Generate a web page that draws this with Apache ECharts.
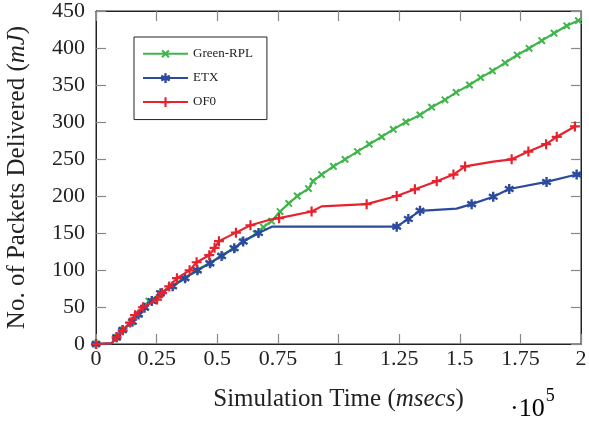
<!DOCTYPE html>
<html>
<head>
<meta charset="utf-8">
<script src="https://cdn.jsdelivr.net/npm/echarts@6/dist/echarts.min.js"></script>
<style>html,body{margin:0;padding:0;background:#fff;}#c{width:589px;height:421px;}</style>
</head>
<body>
<div id="c"></div>
<script>
// ---- data (x in units of 1e5 msecs) ----
const xTicks = [0, 0.25, 0.5, 0.75, 1, 1.25, 1.5, 1.75, 2];
const yTicks = [0, 50, 100, 150, 200, 250, 300, 350, 400, 450];

const greenX = [0, 0.065, 0.085, 0.11, 0.15, 0.175, 0.205, 0.218, 0.266, 0.31, 0.36, 0.41, 0.465, 0.515, 0.565, 0.61, 0.66, 0.69, 0.724, 0.759, 0.795, 0.83, 0.876, 0.895, 0.93, 0.979, 1.027, 1.078, 1.127, 1.178, 1.226, 1.278, 1.336, 1.384, 1.439, 1.485, 1.54, 1.586, 1.635, 1.687, 1.737, 1.786, 1.838, 1.889, 1.941, 1.989, 2.0];
const greenY = [0, 1, 9, 19, 30, 40, 50, 58, 68, 78, 88, 99, 109, 119, 129, 139, 149, 158, 166, 179, 190, 200, 210, 220, 229, 240, 249.5, 260, 270, 280, 290, 300, 309.5, 320, 330, 340, 350, 360, 369, 380, 390.5, 399.6, 410, 420, 430, 437, 439];
const greenHidden = [1, 46];

const etxX = [0, 0.065, 0.085, 0.11, 0.15, 0.175, 0.2, 0.23, 0.266, 0.316, 0.367, 0.418, 0.47, 0.518, 0.57, 0.607, 0.67, 0.725, 1.24, 1.288, 1.336, 1.487, 1.549, 1.638, 1.704, 1.858, 1.982, 2.0];
const etxY = [0, 1, 9, 19, 30, 40, 49, 58, 68.5, 78, 89, 99.5, 109, 119, 129.5, 138.5, 150, 158.6, 158.6, 169, 180, 183, 189, 199, 209.5, 219, 229, 230];
const etxHidden = [1, 17, 21, 27];

const of0X = [0, 0.065, 0.085, 0.11, 0.14, 0.161, 0.194, 0.252, 0.272, 0.302, 0.334, 0.386, 0.415, 0.467, 0.489, 0.507, 0.577, 0.637, 0.724, 0.755, 0.889, 0.93, 1.116, 1.24, 1.315, 1.405, 1.474, 1.522, 1.638, 1.714, 1.783, 1.856, 1.9, 1.975];
const of0Y = [0, 1, 9, 18.5, 29, 39, 49.6, 60, 68.8, 77.8, 89, 99.5, 110.5, 120, 130, 139, 150.5, 160.5, 168.5, 170, 179, 186, 189, 200, 209, 220, 229, 240, 246.5, 249.5, 260, 270, 280, 294];
const of0Hidden = [1, 18, 21, 28];

const seriesNames = ['Green-RPL', 'ETX', 'OF0'];
const seriesColors = ['#3fb54b', '#2c4b9f', '#e8222c'];

// marker shapes
const plusPath = 'path://M3.9,0 L6.1,0 L6.1,3.9 L10,3.9 L10,6.1 L6.1,6.1 L6.1,10 L3.9,10 L3.9,6.1 L0,6.1 L0,3.9 L3.9,3.9 Z';
const astPath = 'path://M3.8,0 L6.2,0 L6.2,10 L3.8,10 Z M0.07,3.539 L1.27,1.461 L9.93,6.461 L8.73,8.539 Z M8.73,1.461 L9.93,3.539 L1.27,8.539 L0.07,6.461 Z';

function build(xs, ys, hidden) {
  return xs.map((x, i) => hidden.indexOf(i) >= 0 ? {value: [x, ys[i]], symbol: 'none'} : [x, ys[i]]);
}

const serif = 'Liberation Serif';
const chart = echarts.init(document.getElementById('c'), null, {renderer: 'canvas'});

function mkSeries(idx, xs, ys, hidden, symbol, size, rot) {
  return {
    name: seriesNames[idx],
    type: 'line',
    data: build(xs, ys, hidden),
    symbol: symbol,
    symbolSize: size,
    symbolRotate: rot,
    symbolKeepAspect: true,
    showAllSymbol: true,
    lineStyle: {color: seriesColors[idx], width: 2.2},
    itemStyle: {color: seriesColors[idx], borderWidth: 0},
    emphasis: {disabled: true},
    animation: false,
    z: 2 + idx
  };
}

const axisTickStyle = {show: true, inside: true, length: 10, lineStyle: {color: '#888', width: 1.2}};
const axisLineStyle = {show: true, onZero: false, lineStyle: {color: '#222', width: 1}};
const nameRich = {
  a: {fontFamily: serif, fontSize: 25, color: '#222'},
  b: {fontFamily: serif, fontSize: 25, fontStyle: 'italic', color: '#222'}
};

chart.setOption({
  animation: false,
  grid: {left: 96, right: 8, top: 11, bottom: 77, containLabel: false, outerBoundsMode: 'none', show: true, borderColor: '#222', borderWidth: 1, backgroundColor: 'transparent'},
  legend: {
    orient: 'vertical',
    left: 134, top: 37,
    padding: [10, 14, 11, 8],
    itemWidth: 45, itemHeight: 12, itemGap: 11,
    borderColor: '#222', borderWidth: 1,
    backgroundColor: '#fff',
    textStyle: {fontFamily: serif, fontSize: 13, color: '#222'},
    data: seriesNames
  },
  xAxis: [{
    type: 'value', min: 0, max: 2, interval: 0.25,
    axisLine: axisLineStyle,
    axisTick: axisTickStyle,
    splitLine: {show: false},
    axisLabel: {fontFamily: serif, fontSize: 22, color: '#222', margin: 4, formatter: v => String(+v.toFixed(2))},
    name: '{a|Simulation Time (}{b|msecs}{a|)}',
    nameLocation: 'middle', nameGap: 43,
    nameTextStyle: {rich: nameRich}
  }, {
    type: 'value', min: 0, max: 2, interval: 0.25, position: 'top',
    axisLine: axisLineStyle, axisTick: axisTickStyle, axisLabel: {show: false}, splitLine: {show: false}
  }],
  yAxis: [{
    type: 'value', min: 0, max: 450, interval: 50,
    axisLine: axisLineStyle,
    axisTick: axisTickStyle,
    splitLine: {show: false},
    axisLabel: {fontFamily: serif, fontSize: 22, color: '#222', margin: 11},
    name: '{a|No. of Packets Delivered (}{b|mJ}{a|)}',
    nameLocation: 'middle', nameGap: 66, nameRotate: 90,
    nameTextStyle: {rich: nameRich}
  }, {
    type: 'value', min: 0, max: 450, interval: 50, position: 'right',
    axisLine: axisLineStyle, axisTick: axisTickStyle, axisLabel: {show: false}, splitLine: {show: false}
  }],
  graphic: [{
    type: 'text', left: 510, top: 387,
    style: {
      text: '{a|·10}{s|5}',
      rich: {a: {fontFamily: serif, fontSize: 26, color: '#222', verticalAlign: 'bottom', padding: [9, 1, 0, 0]}, s: {fontFamily: serif, fontSize: 18, color: '#222', verticalAlign: 'top'}}
    }
  }],
  series: [
    mkSeries(0, greenX, greenY, greenHidden, plusPath, 9, 45),
    mkSeries(1, etxX, etxY, etxHidden, astPath, 10, 0),
    mkSeries(2, of0X, of0Y, of0Hidden, plusPath, 10, 0)
  ]
});
</script>
</body>
</html>
